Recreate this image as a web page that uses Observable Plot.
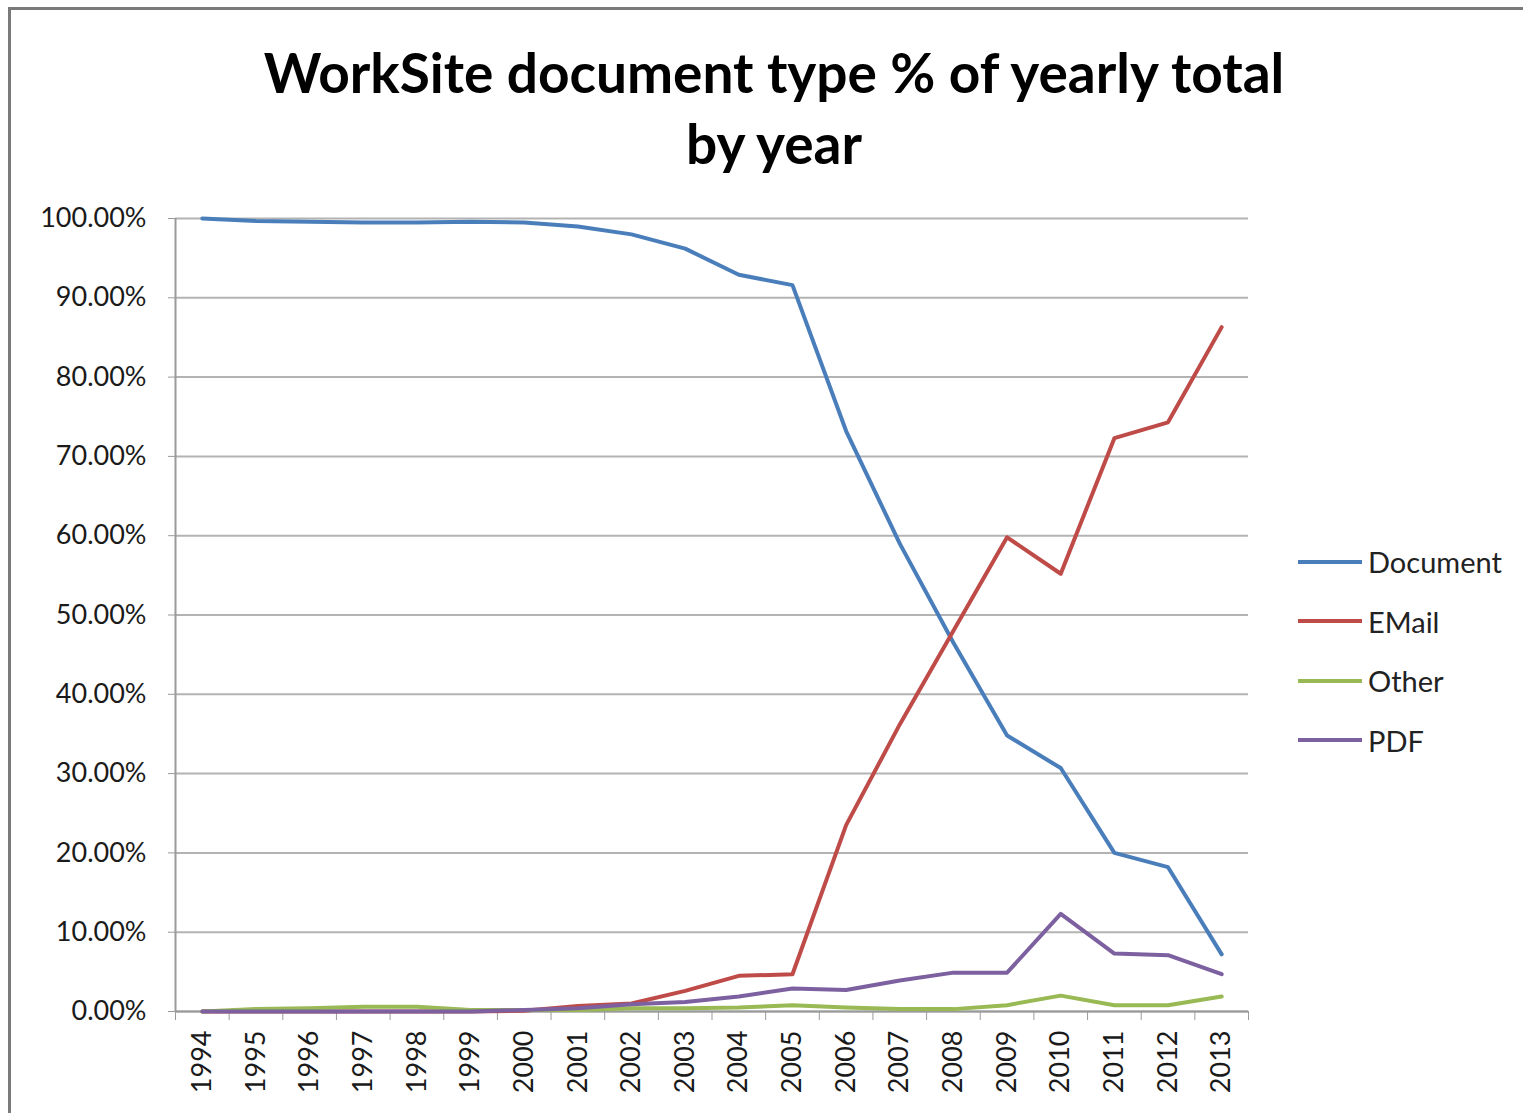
<!DOCTYPE html>
<html>
<head>
<meta charset="utf-8">
<script src="https://cdn.jsdelivr.net/npm/d3@7"></script>
<script src="https://cdn.jsdelivr.net/npm/@observablehq/plot@0.6"></script>
<style>
  html, body { margin: 0; padding: 0; background: #fff; }
  #wrap { position: relative; width: 1523px; height: 1113px; overflow: hidden; font-family: Lato, "Open Sans", sans-serif; }
  #frame { position: absolute; left: 8px; top: 7px; width: 1540px; height: 1140px; border-left: 3px solid #7a7a7a; border-top: 3px solid #7a7a7a; box-sizing: border-box; }
  #title { position: absolute; left: 0; width: 1548px; top: 37px; text-align: center; font-weight: 700; font-size: 55px; line-height: 71px; color: #000; }
  #chart { position: absolute; left: 0; top: 190px; }
  #legend { position: absolute; left: 1298px; top: 532px; font-size: 29px; color: #222; }
  .row { display: flex; align-items: center; height: 59.5px; }
  .sw { width: 64px; height: 4px; margin-right: 6px; }
</style>
</head>
<body>
<div id="wrap">
  <div id="frame"></div>
  <div id="title">WorkSite document type % of yearly total<br>by year</div>
  <div id="chart"></div>
  <div id="legend"></div>
</div>
<script>
const years = [1994,1995,1996,1997,1998,1999,2000,2001,2002,2003,2004,2005,2006,2007,2008,2009,2010,2011,2012,2013];
const seriesNames = ["Document","EMail","Other","PDF"];
const documentPct = [100.0,99.7,99.6,99.5,99.5,99.6,99.5,99.0,98.0,96.2,92.9,91.6,73.2,59.0,46.5,34.8,30.7,20.0,18.2,7.2];
const emailPct    = [0.0,0.0,0.0,0.0,0.0,0.0,0.1,0.7,1.0,2.6,4.5,4.7,23.5,36.2,48.0,59.8,55.2,72.3,74.3,86.3];
const otherPct    = [0.0,0.3,0.4,0.6,0.6,0.2,0.2,0.2,0.4,0.4,0.5,0.8,0.5,0.3,0.3,0.8,2.0,0.8,0.8,1.9];
const pdfPct      = [0.0,0.0,0.0,0.0,0.0,0.0,0.2,0.4,0.9,1.2,1.9,2.9,2.7,3.9,4.9,4.9,12.3,7.3,7.1,4.7];
const yTicks = [0,10,20,30,40,50,60,70,80,90,100];
const colors = ["#4a7ebb","#be4b48","#98b954","#7d60a0"];

const values = [documentPct, emailPct, otherPct, pdfPct];
const data = [];
seriesNames.forEach((s, i) => years.forEach((y, j) => data.push({series: s, year: y, pct: values[i][j]})));
const boundaries = years.map(y => y - 0.5).concat([years[years.length - 1] + 0.5]);

const chart = Plot.plot({
  width: 1523,
  height: 920,
  marginLeft: 175,
  marginRight: 275,
  marginTop: 28,
  marginBottom: 99,
  style: { fontFamily: "Lato, 'Open Sans', sans-serif", background: "transparent", overflow: "visible" },
  x: { type: "linear", domain: [years[0] - 0.5, years[years.length - 1] + 0.5] },
  y: { domain: [0, 100] },
  color: { domain: seriesNames, range: colors },
  marks: [
    Plot.gridY(yTicks, { stroke: "#b3b3b3", strokeOpacity: 1, strokeWidth: 2 }),
    Plot.ruleX([years[0] - 0.5], { stroke: "#9a9a9a", strokeWidth: 2 }),
    Plot.ruleY([0], { stroke: "#9a9a9a", strokeWidth: 2 }),
    Plot.axisY(yTicks, { tickFormat: d => d.toFixed(2) + "%", tickSize: 7, tickPadding: 22, fontSize: 27, stroke: "#9a9a9a", color: "#1a1a1a", label: null }),
    Plot.axisX(boundaries, { tickSize: 9, tickFormat: () => "", stroke: "#9a9a9a", label: null }),
    Plot.axisX(years, { tickSize: 0, tickRotate: -90, tickPadding: 19, fontSize: 27, color: "#1a1a1a", tickFormat: d => String(d), label: null }),
    Plot.line(data, { x: "year", y: "pct", z: "series", stroke: "series", strokeWidth: 4, strokeLinejoin: "round" })
  ]
});
document.getElementById("chart").appendChild(chart);

const legend = document.getElementById("legend");
seriesNames.forEach((s, i) => {
  const row = document.createElement("div");
  row.className = "row";
  row.innerHTML = `<div class="sw" style="background:${colors[i]}"></div><span>${s}</span>`;
  legend.appendChild(row);
});
</script>
</body>
</html>
